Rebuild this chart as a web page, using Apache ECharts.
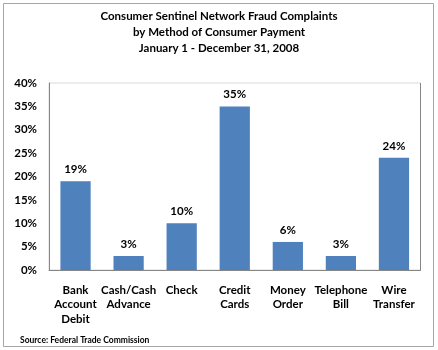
<!DOCTYPE html>
<html><head><meta charset="utf-8">
<script src="https://cdn.jsdelivr.net/npm/echarts@6/dist/echarts.min.js"></script>
<style>html,body{margin:0;padding:0;background:#fff}#c{width:438px;height:350px}</style>
</head><body><div id="c"></div>
<script>
const categories = ['Bank\nAccount\nDebit','Cash/Cash\nAdvance','Check','Credit\nCards','Money\nOrder','Telephone\nBill','Wire\nTransfer'];
const values = [19, 3, 10, 35, 6, 3, 24];
const titleLines = ['Consumer Sentinel Network Fraud Complaints','by Method of Consumer Payment','January 1 - December 31, 2008'];
const sourceText = 'Source: Federal Trade Commission';
const FONT = 'Lato, "Open Sans", sans-serif';
const chart = echarts.init(document.getElementById('c'), null, {renderer:'canvas'});
chart.setOption({
  animation:false,
  title:titleLines.map((t,i)=>({text:t, left:'center', top:10.5+i*16, padding:0,
    textStyle:{fontFamily:FONT, fontSize:11.5, fontWeight:'bold', color:'#000'}})),
  grid:{left:49, right:17.5, top:83, bottom:80, show:true, borderColor:'#d9d9d9', borderWidth:1},
  xAxis:{type:'category', data:categories,
    axisLine:{lineStyle:{color:'#868686'}}, axisTick:{show:false},
    axisLabel:{interval:0, fontFamily:FONT, fontSize:11.5, fontWeight:'bold', color:'#000', lineHeight:14.5, margin:13}},
  yAxis:{type:'value', min:0, max:40, interval:5,
    axisLine:{show:true, lineStyle:{color:'#868686'}}, axisTick:{show:false}, splitLine:{show:false},
    axisLabel:{formatter:'{value}%', fontFamily:FONT, fontSize:11.5, fontWeight:'bold', color:'#000', margin:12}},
  series:[{type:'bar', data:values, barWidth:'57%', itemStyle:{color:'#4F81BD'},
    label:{show:true, position:'top', distance:6, formatter:'{c}%', fontFamily:FONT, fontSize:11.5, fontWeight:'bold', color:'#000'}}],
  graphic:[
    {type:'rect', shape:{x:3.5, y:3.5, width:430, height:343}, style:{fill:null, stroke:'#a6a6a6', lineWidth:1}, silent:true},
    {type:'line', shape:{x1:420.5, y1:83, x2:420.5, y2:270}, style:{stroke:'#868686', lineWidth:1}},
    {type:'text', left:20, top:336, style:{text:sourceText, fontFamily:FONT, fontSize:8.5, fontWeight:'bold', fill:'#000'}}
  ]
});
</script></body></html>
